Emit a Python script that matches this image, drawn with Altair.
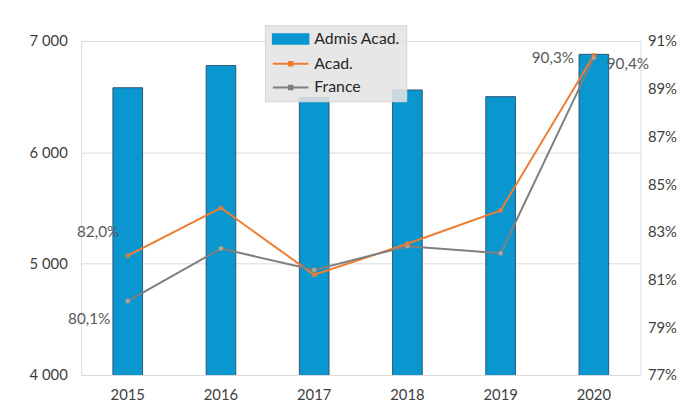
import altair as alt
import pandas as pd

years = ["2015", "2016", "2017", "2018", "2019", "2020"]
admis = [6580, 6780, 6490, 6560, 6500, 6880]
acad = [82.0, 84.0, 81.2, 82.5, 83.9, 90.4]
france = [80.1, 82.3, 81.4, 82.4, 82.1, 90.3]
series_names = ["Admis Acad.", "Acad.", "France"]
left_ticks = [4000, 5000, 6000, 7000]
right_ticks = [77, 79, 81, 83, 85, 87, 89, 91]

FONT = "Lato"
BLUE = "#0A97D0"
ORANGE = "#ED7D31"
GRAY = "#7F7F7F"

bars_df = pd.DataFrame({"year": years, "value": admis, "series": series_names[0]})
lines_df = pd.DataFrame({
    "year": years * 2,
    "rate": acad + france,
    "series": [series_names[1]] * 6 + [series_names[2]] * 6,
})

x_enc = alt.X(
    "year:N", title=None,
    scale=alt.Scale(paddingInner=0, paddingOuter=0),
    axis=alt.Axis(labelAngle=0, ticks=False, domain=False, labelPadding=13,
                  labelFontSize=15, labelColor="#404040", labelFont=FONT),
)

color_scale = alt.Scale(domain=series_names, range=[BLUE, ORANGE, GRAY])
BAR_PATH = "M-1,-0.8H5V0.8H-1Z"
LINE_PATH = "M-1,0H5M1.7,-0.3H2.3V0.3H1.7Z"
legend = alt.Legend(
    title=None, orient="none", legendX=186, legendY=-16,
    symbolType={"expr": "datum.value === 'Admis Acad.' ? '" + BAR_PATH + "' : '" + LINE_PATH + "'"},
    symbolSize=144, symbolStrokeWidth=2, labelFont=FONT, labelFontSize=16,
    labelColor="#262626", labelOffset=28, rowPadding=8, padding=6,
    fillColor="rgba(228,228,228,0.88)", strokeColor="#D4D4D4",
)

bars = alt.Chart(bars_df).mark_bar(size=30, stroke="#2F5575", strokeWidth=1, clip=True).encode(
    x=x_enc,
    y=alt.Y("value:Q", title=None,
            scale=alt.Scale(domain=[4000, 7000], nice=False, zero=False),
            axis=alt.Axis(values=left_ticks,
                          labelExpr="replace(format(datum.value, ',d'), ',', ' ')",
                          domain=False, ticks=False, grid=True, gridColor="#D9D9D9",
                          labelPadding=14, labelFontSize=15, labelColor="#404040",
                          labelFont=FONT)),
    color=alt.Color("series:N", scale=color_scale, legend=legend),
)

y2 = alt.Y("rate:Q", title=None,
           scale=alt.Scale(domain=[77, 91], nice=False, zero=False),
           axis=alt.Axis(orient="right", values=right_ticks, labelExpr="datum.value + '%'",
                         domain=False, ticks=False, grid=False, labelPadding=7,
                         labelFontSize=15, labelColor="#404040", labelFont=FONT))

lines = alt.Chart(lines_df).mark_line(strokeWidth=2).encode(
    x=x_enc, y=y2,
    color=alt.Color("series:N", scale=color_scale, legend=legend),
)
pts_acad = alt.Chart(lines_df).transform_filter("datum.series === 'Acad.'").mark_point(
    shape="square", size=22, filled=True, color=ORANGE).encode(x=x_enc, y=y2)
pts_fr = alt.Chart(lines_df).transform_filter("datum.series === 'France'").mark_point(
    shape="square", size=22, filled=True, fill="#BFBFBF", stroke=GRAY, strokeWidth=1).encode(x=x_enc, y=y2)

lbl_base = alt.Chart(lines_df).transform_calculate(
    txt="replace(format(datum.rate, '.1f'), '.', ',') + '%'")


def label(series, year, align, dx, dy):
    return lbl_base.transform_filter(
        f"datum.series === '{series}' && datum.year === '{year}'"
    ).mark_text(align=align, baseline="middle", dx=dx, dy=dy, fontSize=15.5,
                font=FONT, color="#595959").encode(x=x_enc, y=y2, text="txt:N")


labels = [
    label("Acad.", "2015", "center", -30, -24),
    label("France", "2015", "center", -39, 18),
    label("France", "2020", "right", -20, 0),
    label("Acad.", "2020", "left", 13, 9),
]

right_layer = alt.layer(lines, pts_fr, pts_acad, *labels)

chart = alt.layer(bars, right_layer).resolve_scale(y="independent").properties(
    width=566, height=338,
    autosize=alt.AutoSizeParams(type="none"),
    padding={"left": 74, "top": 31, "right": 40, "bottom": 30},
).configure_view(stroke=None).configure(background="white")

chart.save("out.html", embed_options={"renderer": "svg", "actions": False})
